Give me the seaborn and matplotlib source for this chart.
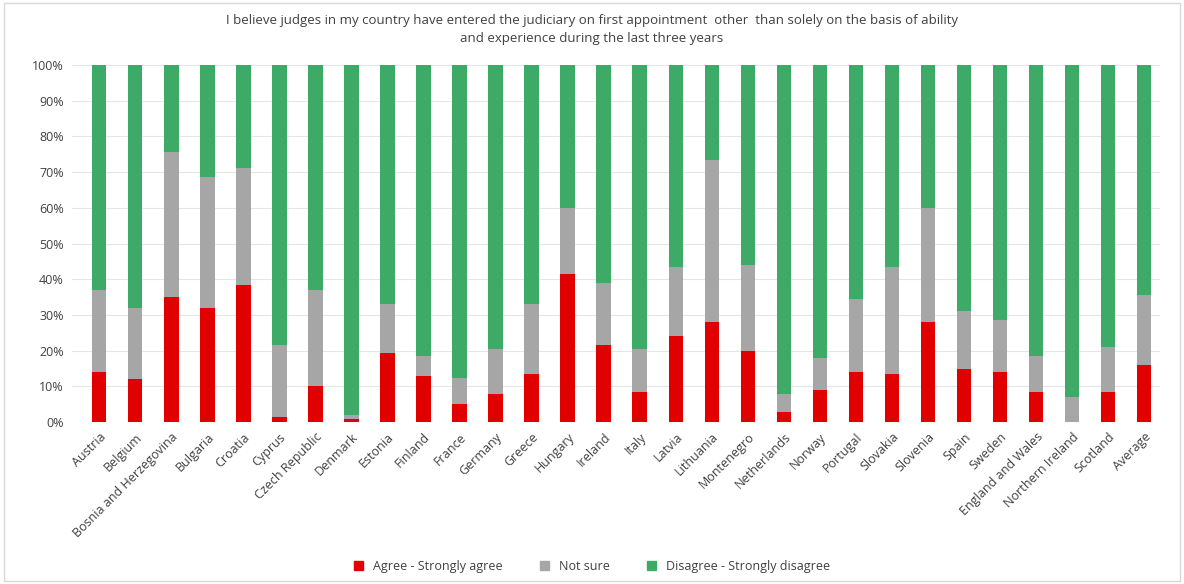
import pandas as pd
import seaborn as sns
import matplotlib.pyplot as plt
from matplotlib.patches import Patch
from matplotlib.ticker import PercentFormatter

countries = ['Austria', 'Belgium', 'Bosnia and Herzegovina', 'Bulgaria', 'Croatia', 'Cyprus',
             'Czech Republic', 'Denmark', 'Estonia', 'Finland', 'France', 'Germany', 'Greece',
             'Hungary', 'Ireland', 'Italy', 'Latvia', 'Lithuania', 'Montenegro', 'Netherlands',
             'Norway', 'Portugal', 'Slovakia', 'Slovenia', 'Spain', 'Sweden', 'England and Wales',
             'Northern Ireland', 'Scotland', 'Average']
agree = [14, 12, 35, 32, 38.5, 1.5, 10, 1, 19.5, 13, 5, 8, 13.5, 41.5, 21.5, 8.5, 24, 28, 20, 3,
         9, 14, 13.5, 28, 15, 14, 8.5, 0, 8.5, 16]
not_sure = [23, 20, 40.5, 36.5, 32.5, 20, 27, 1, 13.5, 5.5, 7.5, 12.5, 19.5, 18.5, 17.5, 12, 19.5,
            45.5, 24, 5, 9, 20.5, 30, 32, 16, 14.5, 10, 7, 12.5, 19.5]
disagree = [100 - a - n for a, n in zip(agree, not_sure)]

labels = ['Agree - Strongly agree', 'Not sure', 'Disagree - Strongly disagree']
colors = ['#E00000', '#A6A6A6', '#3DAA68']

df = pd.DataFrame({'country': countries, 'agree': agree, 'not_sure': not_sure, 'disagree': disagree})
df['lvl1'] = df['agree']
df['lvl2'] = df['agree'] + df['not_sure']
df['lvl3'] = df['lvl2'] + df['disagree']

plt.rcParams['font.family'] = ['Open Sans', 'DejaVu Sans']
fig = plt.figure(figsize=(11.84, 5.84), dpi=100)
ax = fig.add_axes([0.061, 0.277, 0.919, 0.612])

# stacked look: draw cumulative totals from the top down
for col, c in zip(['lvl3', 'lvl2', 'lvl1'], colors[::-1]):
    sns.barplot(data=df, x='country', y=col, color=c, width=0.4, saturation=1, ax=ax, zorder=2)

ax.set_ylim(0, 100)
ax.set_yticks(range(0, 101, 10))
ax.yaxis.set_major_formatter(PercentFormatter(decimals=0))
ax.grid(axis='y', color='#E6E6E6', linewidth=0.8, zorder=0)
ax.set_axisbelow(True)
for s in ax.spines.values():
    s.set_visible(False)
ax.tick_params(length=0, labelsize=9, colors='#404040', pad=6)
ax.set_xlabel('')
ax.set_ylabel('')
plt.setp(ax.get_xticklabels(), rotation=45, ha='right', rotation_mode='anchor')
ax.set_xlim(-0.75, len(countries) - 0.55)

fig.text(0.5, 0.95, 'I believe judges in my country have entered the judiciary on first appointment  other  than solely on the basis of ability\nand experience during the last three years',
         ha='center', va='center', fontsize=9.5, color='#404040', linespacing=1.5)

handles = [Patch(color=c, label=l) for c, l in zip(colors, labels)]
fig.legend(handles=handles, loc='center', bbox_to_anchor=(0.5, 0.03), ncol=3, frameon=False,
           fontsize=9, handlelength=0.7, handleheight=0.7, columnspacing=3, labelcolor='#404040')

fig.patches.append(plt.Rectangle((0.003, 0.005), 0.994, 0.99, transform=fig.transFigure,
                                 fill=False, edgecolor='#D9D9D9', linewidth=1))
fig.savefig('out.png', dpi=100)
